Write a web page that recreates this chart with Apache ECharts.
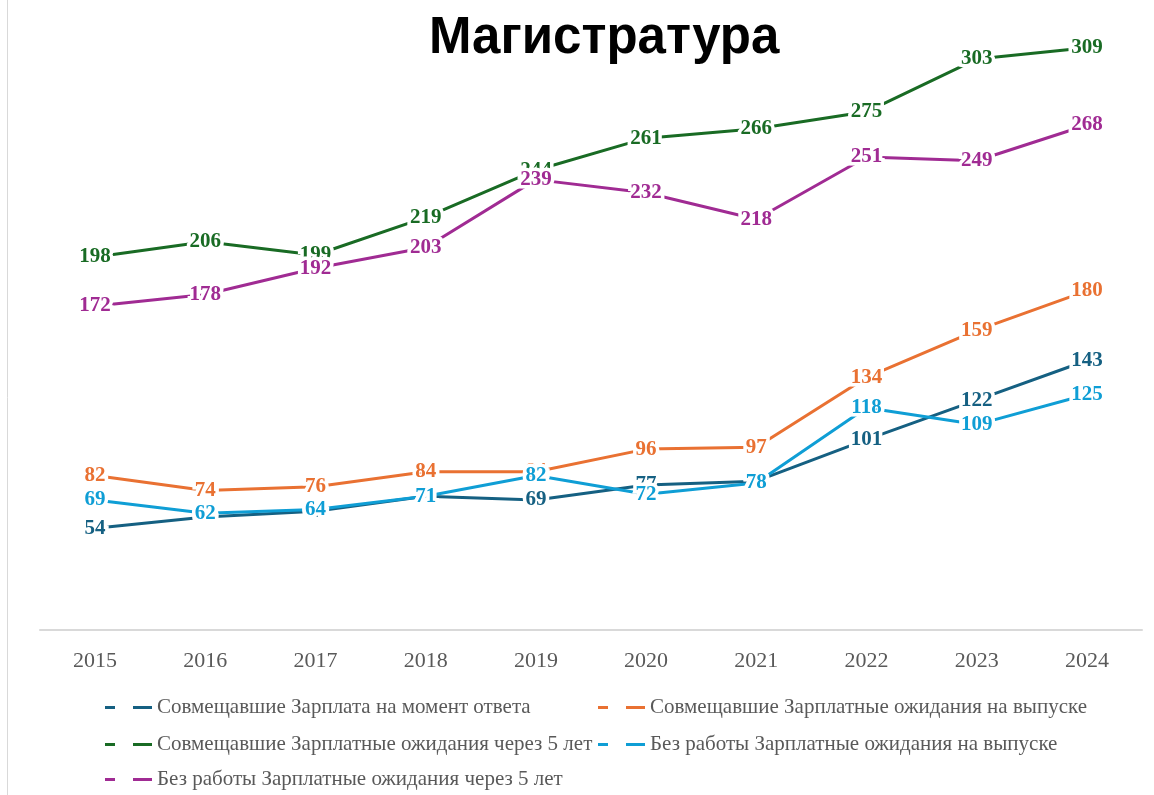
<!DOCTYPE html>
<html>
<head>
<meta charset="utf-8">
<script src="https://cdn.jsdelivr.net/npm/echarts@6/dist/echarts.min.js"></script>
<style>
  html, body { margin: 0; padding: 0; background: #fff; }
  #chart { width: 1154px; height: 795px; }
</style>
</head>
<body>
<div id="chart"></div>
<script>
// данные
var years = ['2015', '2016', '2017', '2018', '2019', '2020', '2021', '2022', '2023', '2024'];
var seriesNames = [
  'Совмещавшие Зарплата на момент ответа',
  'Совмещавшие Зарплатные ожидания на выпуске',
  'Совмещавшие Зарплатные ожидания через 5 лет',
  'Без работы Зарплатные ожидания на выпуске',
  'Без работы Зарплатные ожидания через 5 лет'
];
var salaryNow = [54, 60, 63, 71, 69, 77, 79, 101, 122, 143];
var combinedGrad = [82, 74, 76, 84, 84, 96, 97, 134, 159, 180];
var combined5y = [198, 206, 199, 219, 244, 261, 266, 275, 303, 309];
var joblessGrad = [69, 62, 64, 71, 82, 72, 78, 118, 109, 125];
var jobless5y = [172, 178, 192, 203, 239, 232, 218, 251, 249, 268];
var colors = ['#156082', '#E97132', '#196B24', '#0F9ED5', '#A02B93'];

var myChart = echarts.init(document.getElementById('chart'));

var dashIcon = 'path://M0,0h10v3H0z M28,0h19v3H28z';

function makeSeries(idx, data) {
  return {
    name: seriesNames[idx],
    type: 'line',
    data: data,
    symbol: 'circle',
    symbolSize: 1,
    showSymbol: true,
    lineStyle: { width: 3, color: colors[idx] },
    itemStyle: { color: colors[idx] },
    label: {
      show: true,
      position: 'inside',
      color: colors[idx],
      fontFamily: 'Liberation Serif',
      fontWeight: 'bold',
      fontSize: 21,
      textBorderColor: '#fff',
      textBorderWidth: 7
    },
    labelLayout: { hideOverlap: false },
    animation: false
  };
}

var legendText = { color: '#595959', fontFamily: 'Liberation Serif', fontSize: 21 };

// одна легенда на каждую серию, чтобы разложить их по двум столбцам
var legendPos = [[100, 692], [593, 692], [100, 729], [593, 729], [100, 764]];
var legends = seriesNames.map(function (name, i) {
  return {
    data: [name],
    left: legendPos[i][0],
    top: legendPos[i][1],
    itemWidth: 47,
    itemHeight: 16,
    icon: dashIcon,
    textStyle: legendText
  };
});

var option = {
  backgroundColor: '#fff',
  title: {
    text: 'Магистратура',
    left: 424,
    top: 8,
    textStyle: { fontFamily: 'Liberation Sans', fontWeight: 'bold', fontSize: 51, color: '#000' }
  },
  legend: legends,
  grid: { left: 40, right: 12, top: 27, bottom: 165 },
  xAxis: {
    type: 'category',
    data: years,
    boundaryGap: true,
    axisLine: { lineStyle: { color: '#d9d9d9', width: 2 } },
    axisTick: { show: false },
    axisLabel: { color: '#595959', fontFamily: 'Liberation Serif', fontSize: 22, margin: 20 }
  },
  yAxis: {
    type: 'value',
    min: 0,
    max: 320,
    show: false,
    splitLine: { show: false }
  },
  graphic: [
    {
      type: 'line',
      shape: { x1: 7.5, y1: 0, x2: 7.5, y2: 795 },
      style: { stroke: '#d9d9d9', lineWidth: 1 }
    }
  ],
  series: [
    makeSeries(0, salaryNow),
    makeSeries(1, combinedGrad),
    makeSeries(2, combined5y),
    makeSeries(3, joblessGrad),
    makeSeries(4, jobless5y)
  ]
};

myChart.setOption(option);
</script>
</body>
</html>
